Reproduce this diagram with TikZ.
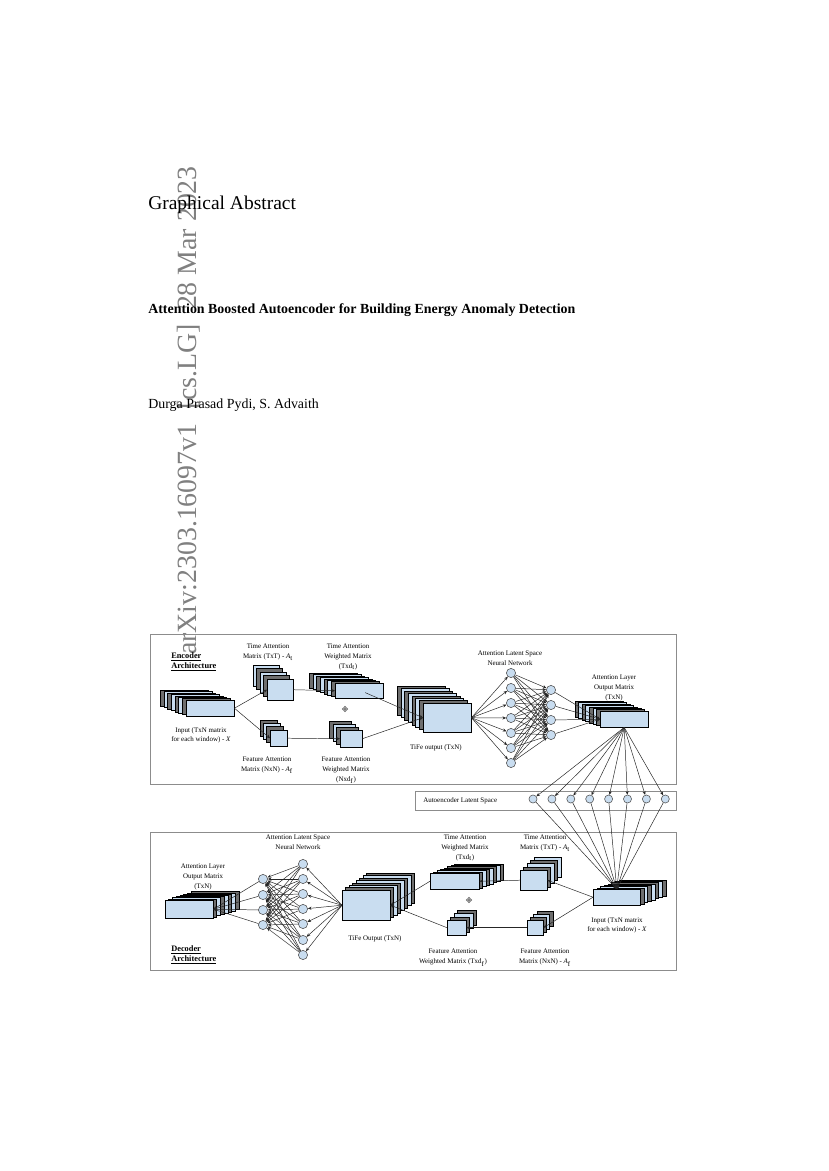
\documentclass[tikz,border=0pt]{standalone}
\usepackage{fontspec}
\setmainfont{Liberation Serif}
\usetikzlibrary{arrows.meta,calc}
\definecolor{layblue}{HTML}{C9DDF0}
\definecolor{laygray}{HTML}{6E6E6E}
\definecolor{framegray}{HTML}{8C8C8C}
\definecolor{circgray}{HTML}{505050}
% name, x, y (front top-left), w, h, n back layers, dx, dy
\newcommand{\mstack}[8]{%
  \foreach \k in {#6,...,1}{%
    \pgfmathtruncatemacro\oddk{mod(\k,2)}%
    \ifnum\oddk=1 \def\lfill{laygray}\else\def\lfill{layblue}\fi
    \draw[layer, fill=\lfill] ({#2+\k*(#7)},{#3+\k*(#8)}) rectangle ++(#4,#5);
  }%
  \node[front, anchor=north west, minimum width={#4*0.7186pt}, minimum height={#5*0.7186pt}] (#1) at (#2,#3) {};
}
\begin{document}
\begin{tikzpicture}[x=0.7186pt,y=-0.7186pt,
  layer/.style={draw=black, line width=0.3pt},
  front/.style={draw=black, fill=layblue, line width=0.3pt, inner sep=0},
  conn/.style={draw=black!85, line width=0.35pt, -{Stealth[length=2.6pt,width=2.2pt]}},
  nn/.style={circle, draw=circgray, fill=layblue, minimum size=6.6pt, inner sep=0, line width=0.4pt},
  lat/.style={nn, minimum size=5.8pt},
  lbl/.style={font=\fontsize{5}{6.9}\selectfont, align=center, inner sep=0, anchor=north},
  archlbl/.style={font=\fontsize{6}{7.2}\selectfont\bfseries, align=left, inner sep=0, anchor=north west},
  frame/.style={draw=framegray, line width=0.7pt},
  petal/.style={draw=circgray, fill=white, line width=0.3pt}]

\useasboundingbox[fill=white] (0,0) rectangle (828,1171);

% ---- page header ----
\node[rotate=90, anchor=base west, inner sep=0, text=gray, font=\fontsize{20}{22}\selectfont] (stamp) at (196,655) {arXiv:2303.16097v1\hspace{0.5em}[cs.LG]\hspace{0.5em}28 Mar 2023};
\node[anchor=base west, inner sep=0, font=\fontsize{14}{16}\selectfont] (ga) at (148,210) {Graphical Abstract};
\node[anchor=base west, inner sep=0, font=\fontsize{10}{12}\selectfont\bfseries] (title) at (148,313) {Attention Boosted Autoencoder for Building Energy Anomaly Detection};
\node[anchor=base west, inner sep=0, font=\fontsize{10}{12}\selectfont] (auth) at (148,408) {Durga Prasad Pydi, S. Advaith};

% ---- frames ----
\draw[frame] (150,634) rectangle (676,784);
\draw[frame] (415,791) rectangle (676,810);
\draw[frame] (150,832) rectangle (676,970);

% ---- encoder stacks ----
\mstack{eIn}{186}{700}{48}{16}{7}{-3.7}{-1.4}
\mstack{eTAM}{267}{679}{26}{21}{4}{-3.5}{-3.5}
\mstack{eFAM}{270}{730}{17}{16}{3}{-3.3}{-3.3}
\mstack{eTAWM}{335}{683}{48}{15}{7}{-3.7}{-1.4}
\mstack{eFAWM}{340}{730}{22}{17}{3}{-3.5}{-3.0}
\mstack{eTiFe}{423}{703}{48}{29}{7}{-3.7}{-2.4}
\mstack{eALO}{600}{711}{48}{16}{7}{-3.6}{-1.4}

% ---- decoder stacks ----
\mstack{dIn}{593}{889}{47}{16}{7}{3.7}{-1.3}
\mstack{dTAM}{520}{870}{27}{20}{4}{3.5}{-3.3}
\mstack{dFAM}{527}{920}{16}{15}{3}{3.3}{-3.0}
\mstack{dTAWM}{430}{873}{49}{16}{7}{3.5}{-1.3}
\mstack{dFAWM}{447}{920}{19}{15}{3}{3.5}{-3.3}
\mstack{dTiFe}{342}{890}{48}{30}{7}{3.5}{-2.4}
\mstack{dALO}{165}{900}{48}{18}{7}{3.7}{-1.2}

% ---- combine symbols ----
\foreach \cx/\cy/\nm in {345/709/pe, 469/900/pd}{
  \foreach \ox/\oy in {1.7/0,-1.7/0,0/1.7,0/-1.7}{
    \draw[petal] (\cx+\ox,\cy+\oy) circle[radius=1.2];
  }
  \coordinate (\nm) at (\cx,\cy);
}

% ---- neural network nodes ----
\foreach \i/\yy in {1/673,2/688,3/703,4/718,5/733,6/748,7/763}{\node[nn] (eA\i) at (511,\yy) {};}
\foreach \i/\yy in {1/690,2/705,3/720,4/735}{\node[nn] (eB\i) at (551,\yy) {};}
\foreach \i/\yy in {1/864,2/879,3/894,4/909,5/924,6/940,7/955}{\node[nn] (dA\i) at (303,\yy) {};}
\foreach \i/\yy in {1/879,2/895,3/910,4/925}{\node[nn] (dB\i) at (263,\yy) {};}
\foreach \i in {1,...,8}{\node[lat] (L\i) at ({533+18.9*(\i-1)},799) {};}

% ---- encoder connectors ----
\draw[conn] (eIn.east) -- (eTAM.west);
\draw[conn] (eIn.east) -- (eFAM.west);
\draw[conn] (eTAM.east) -- (eTAWM.west);
\draw[conn] (eFAM.east) -- (eFAWM.west);
\draw[conn] ($(eTAWM.center)!0.25!(eTAWM.south east)$) -- (eTiFe.west);
\draw[conn] (eFAWM.east) -- (eTiFe.west);
\foreach \i in {1,...,7}{\draw[conn] (eTiFe.east) -- (eA\i);}
\foreach \i in {1,...,7}{\foreach \j in {1,...,4}{\draw[conn] (eA\i) -- (eB\j);}}
\foreach \j in {1,...,4}{\draw[conn] (eB\j) -- (eALO.west);}
\foreach \i in {1,...,8}{\draw[conn] (eALO.south) -- (L\i);}

% ---- decoder connectors ----
\foreach \i in {1,...,8}{\draw[conn] (L\i) -- (dIn.north);}
\draw[conn] (dIn.west) -- (dTAM.east);
\draw[conn] (dIn.west) -- (dFAM.east);
\draw[conn] (dTAM.west) -- (dTAWM.east);
\draw[conn] (dFAM.west) -- (dFAWM.east);
\draw[conn] (dTAWM.west) -- (dTiFe.east);
\draw[conn] (dFAWM.west) -- (dTiFe.east);
\foreach \i in {1,...,7}{\draw[conn] (dTiFe.west) -- (dA\i);}
\foreach \i in {1,...,7}{\foreach \j in {1,...,4}{\draw[conn] (dA\i) -- (dB\j);}}
\foreach \j in {1,...,4}{\draw[conn] (dB\j) -- (dALO.east);}

% ---- encoder labels ----
\node[archlbl] (encT) at (171,652) {\underline{Encoder}\\\underline{Architecture}};
\node[lbl] (lTAM) at (268,644) {Time Attention\\Matrix (TxT) - \textit{A}\textsubscript{t}};
\node[lbl] (lTAWM) at (348,644) {Time Attention\\Weighted Matrix\\(Txd\textsubscript{t})};
\node[lbl] (lNN) at (510,651) {Attention Latent Space\\Neural Network};
\node[lbl] (lALO) at (614,675) {Attention Layer\\Output Matrix\\(TxN)};
\node[lbl] (lIn) at (201,727) {Input (TxN matrix\\for each window) - \textit{X}};
\node[lbl] (lFAM) at (267,757) {Feature Attention\\Matrix (NxN) - \textit{A}\textsubscript{f}};
\node[lbl] (lFAWM) at (346,757) {Feature Attention\\Weighted Matrix\\(Nxd\textsubscript{f})};
\node[lbl] (lTiFe) at (436,744) {TiFe output (TxN)};
\node[lbl, anchor=west] (lLat) at (423,801) {Autoencoder Latent Space};

% ---- decoder labels ----
\node[archlbl] (decT) at (171,945) {\underline{Decoder}\\\underline{Architecture}};
\node[lbl] (dlNN) at (298,835) {Attention Latent Space\\Neural Network};
\node[lbl] (dlALO) at (203,864) {Attention Layer\\Output Matrix\\(TxN)};
\node[lbl] (dlTiFe) at (375,935) {TiFe Output (TxN)};
\node[lbl] (dlTAWM) at (465,835) {Time Attention\\Weighted Matrix\\(Txd\textsubscript{t})};
\node[lbl] (dlTAM) at (545,835) {Time Attention\\Matrix (TxT) - \textit{A}\textsubscript{t}};
\node[lbl] (dlIn) at (617,917) {Input (TxN matrix\\for each window) - \textit{X}};
\node[lbl] (dlFAWM) at (453,949) {Feature Attention\\Weighted Matrix (Txd\textsubscript{f})};
\node[lbl] (dlFAM) at (545,949) {Feature Attention\\Matrix (NxN) - \textit{A}\textsubscript{f}};
\end{tikzpicture}
\end{document}
